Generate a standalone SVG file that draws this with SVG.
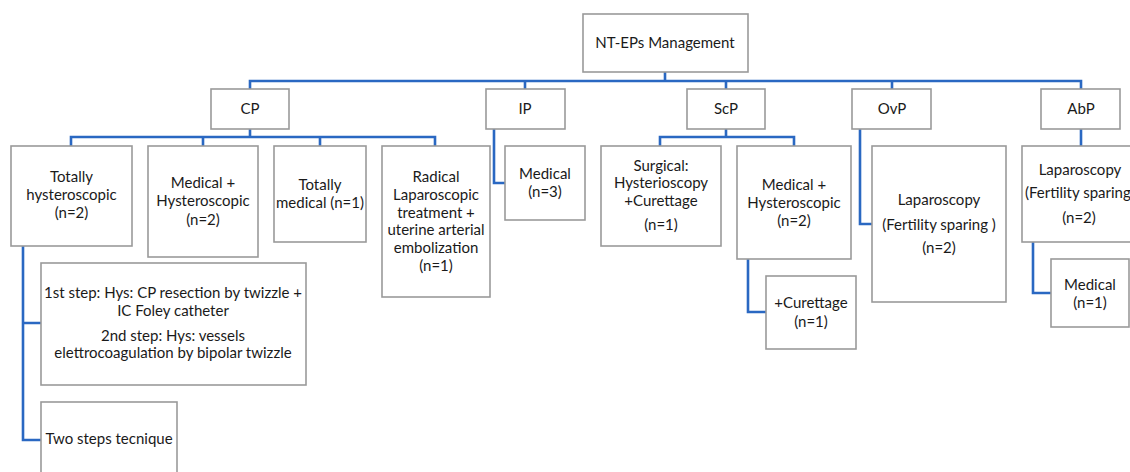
<svg xmlns="http://www.w3.org/2000/svg" width="1130" height="472" viewBox="0 0 1130 472">
<style>
.box{fill:#fff;stroke:#9a9a9a;stroke-width:1.6}
.t{font-family:Lato,"Open Sans","Liberation Sans",sans-serif;font-size:15px;fill:#1a1a1a;text-anchor:middle}
.s{text-anchor:start}
.c{fill:none;stroke:#2a68c2;stroke-width:2.6}
</style>
<rect width="1130" height="472" fill="#fff"/>
<g id="connectors" class="c">
<path d="M665 72V81M250 89V81H1081V89M525 81V89M726 81V89M892 81V89"/>
<path d="M250 129V137M71 146V137H435V146M203 137V146M320 137V146"/>
<path d="M494 129V183H505"/>
<path d="M726 129V137M660 146V137H794V146"/>
<path d="M748 259V312H766"/>
<path d="M860 129V224H872"/>
<path d="M1081 129V146"/>
<path d="M1033 242V293H1051"/>
<path d="M23 246V440H41M23 323H41"/>
</g>
<g id="root"><rect class="box" x="583" y="14" width="165" height="58"/><text class="t" x="665" y="48">NT-EPs Management</text></g>
<g id="cp"><rect class="box" x="211" y="89" width="78" height="40"/><text class="t" x="250" y="114">CP</text></g>
<g id="ip"><rect class="box" x="486" y="89" width="79" height="40"/><text class="t" x="525" y="114">IP</text></g>
<g id="scp"><rect class="box" x="687" y="89" width="78" height="40"/><text class="t" x="726" y="114">ScP</text></g>
<g id="ovp"><rect class="box" x="852" y="89" width="79" height="40"/><text class="t" x="892" y="114">OvP</text></g>
<g id="abp"><rect class="box" x="1041" y="89" width="79" height="40"/><text class="t" x="1081" y="114">AbP</text></g>
<g id="cp-hys"><rect class="box" x="11" y="146" width="121" height="100"/><text class="t" x="71.5" y="182">Totally</text><text class="t" x="71.5" y="200">hysteroscopic</text><text class="t" x="71.5" y="218">(n=2)</text></g>
<g id="cp-medhys"><rect class="box" x="148" y="146" width="110" height="111"/><text class="t" x="203" y="188">Medical +</text><text class="t" x="203" y="206">Hysteroscopic</text><text class="t" x="203" y="225">(n=2)</text></g>
<g id="cp-med"><rect class="box" x="274" y="146" width="92" height="96"/><text class="t" x="320" y="190">Totally</text><text class="t" x="320" y="208">medical (n=1)</text></g>
<g id="cp-radical"><rect class="box" x="382" y="146" width="108" height="151"/><text class="t" x="436" y="182">Radical</text><text class="t" x="436" y="200">Laparoscopic</text><text class="t" x="436" y="218">treatment +</text><text class="t" x="436" y="235">uterine arterial</text><text class="t" x="436" y="253">embolization</text><text class="t" x="436" y="271">(n=1)</text></g>
<g id="ip-med"><rect class="box" x="505" y="146" width="80" height="74"/><text class="t" x="545" y="179">Medical</text><text class="t" x="545" y="197">(n=3)</text></g>
<g id="scp-surg"><rect class="box" x="601" y="146" width="120" height="100"/><text class="t" x="661" y="171">Surgical:</text><text class="t" x="661" y="188">Hysterioscopy</text><text class="t" x="661" y="206">+Curettage</text><text class="t" x="661" y="230">(n=1)</text></g>
<g id="scp-medhys"><rect class="box" x="737" y="146" width="114" height="113"/><text class="t" x="794" y="190">Medical +</text><text class="t" x="794" y="208">Hysteroscopic</text><text class="t" x="794" y="226">(n=2)</text></g>
<g id="scp-cur"><rect class="box" x="766" y="276" width="90" height="73"/><text class="t" x="811" y="308">+Curettage</text><text class="t" x="811" y="327">(n=1)</text></g>
<g id="ovp-lap"><rect class="box" x="872" y="146" width="134" height="156"/><text class="t" x="939" y="205">Laparoscopy</text><text class="t" x="939" y="230">(Fertility sparing )</text><text class="t" x="939" y="253">(n=2)</text></g>
<g id="abp-lap"><rect class="box" x="1022" y="146" width="120" height="96"/><text class="t" x="1080" y="175">Laparoscopy</text><text class="t s" x="1025" y="198">(Fertility sparing</text><text class="t" x="1079" y="223">(n=2)</text></g>
<g id="abp-med"><rect class="box" x="1051" y="259" width="78" height="68"/><text class="t" x="1090" y="290">Medical</text><text class="t" x="1090" y="308">(n=1)</text></g>
<g id="steps"><rect class="box" x="41" y="263" width="265" height="122"/><text class="t" x="173" y="298">1st step: Hys: CP resection by twizzle +</text><text class="t" x="173" y="316">IC Foley catheter</text><text class="t" x="173" y="341">2nd step: Hys: vessels</text><text class="t" x="173" y="358">elettrocoagulation by bipolar twizzle</text></g>
<g id="two-steps"><rect class="box" x="41" y="402" width="136" height="80"/><text class="t" x="109" y="444">Two steps tecnique</text></g>
</svg>
